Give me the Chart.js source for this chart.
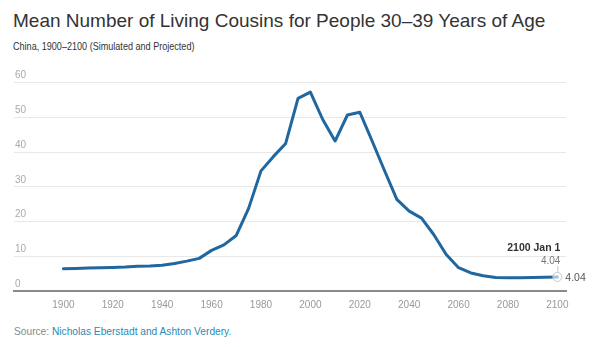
<!DOCTYPE html>
<html lang="en">

<head>
    <meta charset="UTF-8">
    <title>Mean Number of Living Cousins</title>
    <script src="https://cdn.jsdelivr.net/npm/chart.js"></script>
    <style>
        html, body { margin: 0; padding: 0; background: #fff; }
        body { width: 600px; height: 347px; position: relative; overflow: hidden;
               font-family: "Liberation Sans", Arial, sans-serif; }
        #chart { position: absolute; left: 0; top: 0; }
        .txt { position: absolute; left: 13px; white-space: nowrap; }
        #title { top: 11px; font-size: 19px; line-height: 19px; color: #333; }
        #subtitle { top: 41.5px; font-size: 10.2px; line-height: 10.2px; color: #333;
                    transform: scaleX(0.89); transform-origin: 0 0; }
        #source { top: 327px; left: 14px; font-size: 10.2px; line-height: 10.2px; color: #888; }
        #source span { color: #2a8ab5; }
    </style>
</head>

<body>

    <div class="txt" id="title">Mean Number of Living Cousins for People 30–39 Years of Age</div>
    <div class="txt" id="subtitle">China, 1900–2100 (Simulated and Projected)</div>
    <div class="txt" id="source">Source: <span>Nicholas Eberstadt and Ashton Verdery.</span></div>
    <canvas id="chart" width="600" height="347"></canvas>

    <script>
        // Simulated / projected values, one per five years
        const years = [1900, 1905, 1910, 1915, 1920, 1925, 1930, 1935, 1940, 1945,
            1950, 1955, 1960, 1965, 1970, 1975, 1980, 1985, 1990, 1995,
            2000, 2005, 2010, 2015, 2020, 2025, 2030, 2035, 2040, 2045,
            2050, 2055, 2060, 2065, 2070, 2075, 2080, 2085, 2090, 2095, 2100];
        const cousins = [6.4, 6.5, 6.6, 6.7, 6.8, 6.9, 7.1, 7.2, 7.4, 7.9,
            8.6, 9.4, 11.7, 13.3, 16.0, 23.8, 34.6, 38.7, 42.5, 55.5,
            57.3, 49.4, 43.2, 50.7, 51.5, 43.2, 34.7, 26.4, 23.0, 21.0,
            16.2, 10.5, 6.7, 5.2, 4.4, 3.9, 3.8, 3.85, 3.9, 3.95, 4.04];
        const xTicks = [1900, 1920, 1940, 1960, 1980, 2000, 2020, 2040, 2060, 2080, 2100];
        const yTicks = [0, 10, 20, 30, 40, 50, 60];
        const lastLabel = '2100 Jan 1';

        const lineColor = '#21679f';

        // marker + tooltip-like label on the last point
        const lastPointLabel = {
            id: 'lastPointLabel',
            afterDatasetsDraw(chart) {
                const ctx = chart.ctx;
                const meta = chart.getDatasetMeta(0);
                const pt = meta.data[meta.data.length - 1];
                const value = cousins[cousins.length - 1].toFixed(2);
                ctx.save();
                // hollow circle
                ctx.beginPath();
                ctx.arc(pt.x, pt.y, 4.5, 0, Math.PI * 2);
                ctx.fillStyle = 'rgba(255,255,255,0.6)';
                ctx.fill();
                ctx.strokeStyle = '#c8c8c8';
                ctx.lineWidth = 1;
                ctx.stroke();
                // connector
                ctx.beginPath();
                ctx.moveTo(pt.x + 0.5, pt.y - 5);
                ctx.lineTo(pt.x + 0.5, pt.y - 11);
                ctx.stroke();
                // texts
                ctx.textAlign = 'right';
                ctx.textBaseline = 'middle';
                ctx.font = 'bold 10.5px "Liberation Sans", Arial, sans-serif';
                ctx.fillStyle = '#333';
                ctx.fillText(lastLabel, pt.x + 3, pt.y - 29);
                ctx.font = '10px "Liberation Sans", Arial, sans-serif';
                ctx.fillStyle = '#777';
                ctx.fillText(value, pt.x + 3, pt.y - 16);
                ctx.textAlign = 'left';
                ctx.fillStyle = '#555';
                ctx.font = '10.5px "Liberation Sans", Arial, sans-serif';
                ctx.fillText(value, pt.x + 8, pt.y + 1.5);
                ctx.restore();
            }
        };

        new Chart(document.getElementById('chart'), {
            type: 'line',
            data: {
                datasets: [{
                    data: years.map((y, i) => ({ x: y, y: cousins[i] })),
                    borderColor: lineColor,
                    borderWidth: 3,
                    pointRadius: 0,
                    tension: 0,
                    borderJoinStyle: 'round',
                    borderCapStyle: 'round'
                }]
            },
            options: {
                responsive: false,
                animation: false,
                events: [],
                layout: { padding: { left: 14, right: 34, top: 82.7, bottom: 36 } },
                plugins: { legend: { display: false }, tooltip: { enabled: false } },
                scales: {
                    x: {
                        type: 'linear',
                        min: 1880,
                        max: 2103.5,
                        afterBuildTicks: s => { s.ticks = xTicks.map(v => ({ value: v })); },
                        afterFit: s => { s.height = 20; },
                        grid: { display: false, drawTicks: false },
                        border: { display: true, color: '#8a8a8a', width: 2 },
                        ticks: {
                            autoSkip: false,
                            maxRotation: 0,
                            padding: 8,
                            color: '#999',
                            font: { family: '"Liberation Sans", Arial, sans-serif', size: 10 },
                            callback: v => String(v)
                        }
                    },
                    y: {
                        min: 0,
                        max: 60,
                        afterBuildTicks: s => { s.ticks = yTicks.map(v => ({ value: v })); },
                        afterFit: s => { s.width = 0; },
                        grid: { color: '#e8e8e8', lineWidth: 1, drawTicks: false },
                        border: { display: false },
                        ticks: {
                            mirror: true,
                            padding: 1,
                            labelOffset: -7,
                            color: '#aaa',
                            font: { family: '"Liberation Sans", Arial, sans-serif', size: 10 }
                        }
                    }
                }
            },
            plugins: [lastPointLabel]
        });
    </script>

</body>

</html>
